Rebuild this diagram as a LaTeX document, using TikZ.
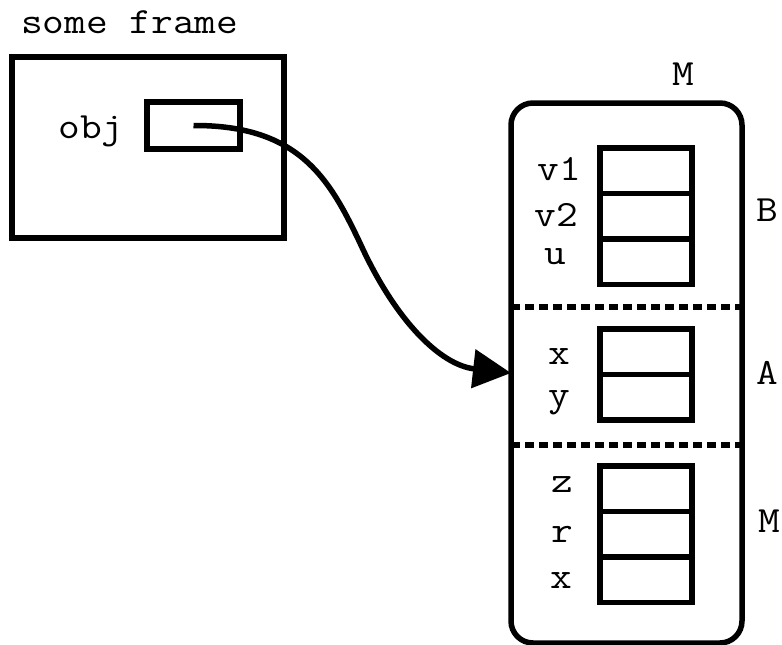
\documentclass[tikz,border=0pt]{standalone}
\usepackage{fontspec}
\setmonofont{Latin Modern Mono}[FakeStretch=1.14]
\usetikzlibrary{arrows.meta}
\begin{document}
\begin{tikzpicture}[x=1pt,y=-1pt,
  every node/.style={inner sep=0pt,outer sep=0pt},
  lbl/.style={font=\ttfamily\fontsize{37}{44}\selectfont, anchor=base},
  box/.style={draw, line width=5.5pt, rectangle},
  cell/.style={draw, line width=5.5pt, rectangle, minimum width=92pt, minimum height=45.5pt},
  sep/.style={line width=5.5pt, dash pattern=on 9pt off 5pt},
  ptr/.style={line width=5.5pt, -{Triangle[length=38pt,width=38pt]}}]
\useasboundingbox (0,0) rectangle (782,645);
% frame
\node[lbl, anchor=base west] (title) at (21,34) {some frame};
\node[box, minimum width=272pt, minimum height=181pt] (frame) at (148,147.5) {};
\node[lbl] (objl) at (91,138) {obj};
\node[box, minimum width=93pt, minimum height=47pt] (obj) at (193.5,125.5) {};
% object M
\node[draw, line width=5.5pt, rounded corners=22pt, minimum width=231pt, minimum height=540pt] (M) at (626.5,373) {};
\node[lbl] (mtop) at (683,85) {M};
\coordinate (d1w) at (511,307); \coordinate (d1e) at (742,307);
\coordinate (d2w) at (511,445); \coordinate (d2e) at (742,445);
\draw[sep] (d1w) -- (d1e);
\draw[sep] (d2w) -- (d2e);
% B cells
\node[cell] (v1) at (646,170.75) {};
\node[cell] (v2) at (646,216.25) {};
\node[cell] (u) at (646,261.75) {};
\node[lbl] (lv1) at (559,180) {v1};
\node[lbl] (lv2) at (556,226) {v2};
\node[lbl] (lu) at (555,264) {u};
\node[lbl] (lB) at (767,221) {B};
% A cells
\node[cell] (ax) at (646,351.75) {};
\node[cell] (ay) at (646,397.25) {};
\node[lbl] (lax) at (559,364) {x};
\node[lbl] (lay) at (559,406) {y};
\node[lbl] (lA) at (767,384) {A};
% M cells
\node[cell] (mz) at (646,488.75) {};
\node[cell] (mr) at (646,534.25) {};
\node[cell] (mx) at (646,579.75) {};
\node[lbl] (lmz) at (562,492) {z};
\node[lbl] (lmr) at (562,542) {r};
\node[lbl] (lmx) at (561,588) {x};
\node[lbl] (lM) at (769,532) {M};
% pointer
\draw[ptr] (obj.center) .. controls (300,125) and (330,180) .. (360,243)
  .. controls (395,320) and (440,365) .. (M.west);
\end{tikzpicture}
\end{document}
